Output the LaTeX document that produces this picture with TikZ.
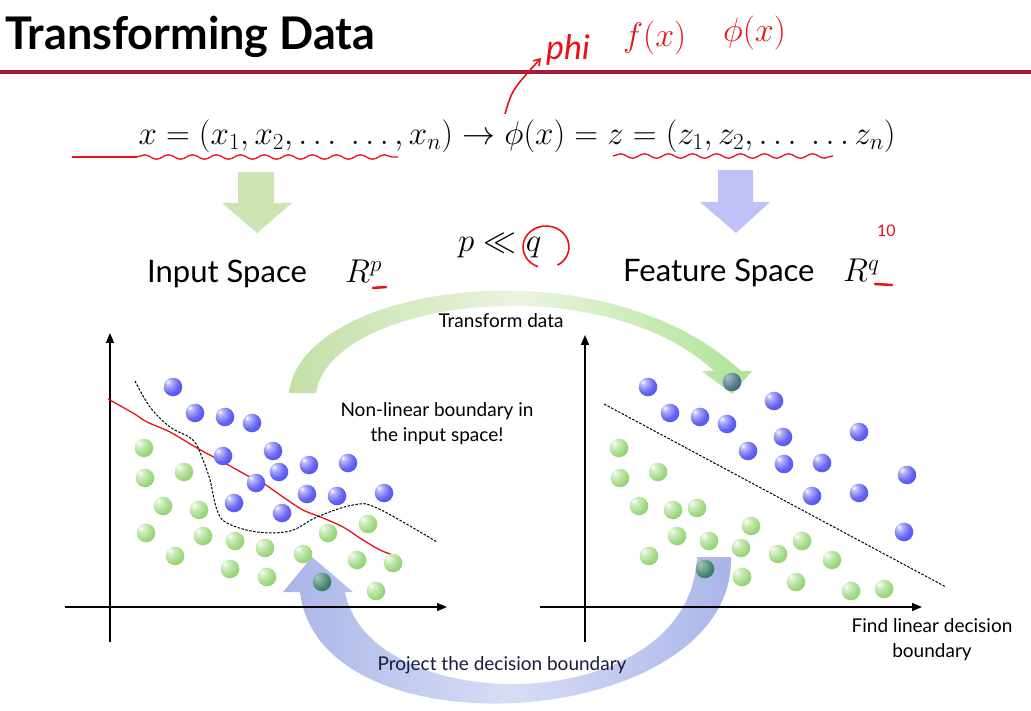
\documentclass[tikz,border=0pt]{standalone}
\usepackage{fix-cm}
\usepackage{amsmath,amssymb}
\usepackage{fontspec}
\setmainfont{Lato}
\usepackage{tikz}
\usetikzlibrary{arrows.meta,positioning,calc,decorations.pathmorphing}
\definecolor{crimson}{HTML}{A01D3E}
\definecolor{inkred}{HTML}{E81218}
\definecolor{leaf}{HTML}{C3E0A6}
\definecolor{lilac}{HTML}{BFC1F7}
\definecolor{lilacband}{HTML}{A9B5E8}
\definecolor{bluedot}{HTML}{4848F0}
\definecolor{greendot}{HTML}{9AD77A}
\definecolor{tealdot}{HTML}{3E8068}
\definecolor{slatedot}{HTML}{4A6F82}
\definecolor{inkblue}{HTML}{1B1B3A}
\pgfdeclareradialshading{bluesphere}{\pgfpoint{-14bp}{14bp}}{color(0bp)=(white);color(8bp)=(bluedot!40);color(26bp)=(bluedot!85);color(45bp)=(bluedot);color(55bp)=(bluedot!85!black);color(100bp)=(bluedot!85!black)}
\pgfdeclareradialshading{greensphere}{\pgfpoint{-14bp}{14bp}}{color(0bp)=(white);color(8bp)=(greendot!40);color(30bp)=(greendot);color(55bp)=(greendot!85!black);color(100bp)=(greendot!85!black)}
\pgfdeclareradialshading{tealsphere}{\pgfpoint{-14bp}{14bp}}{color(0bp)=(tealdot!45);color(30bp)=(tealdot);color(55bp)=(tealdot!85!black);color(100bp)=(tealdot!85!black)}
\pgfdeclareradialshading{slatesphere}{\pgfpoint{-14bp}{14bp}}{color(0bp)=(slatedot!45);color(30bp)=(slatedot);color(55bp)=(slatedot!85!black);color(100bp)=(slatedot!85!black)}
\tikzset{
  ttl/.style={font=\fontsize{45}{50}\selectfont\bfseries,anchor=base west,inner sep=0pt},
  eqn/.style={font=\fontsize{33}{37}\selectfont,anchor=base,inner sep=0pt},
  spc/.style={font=\fontsize{31}{35}\selectfont,anchor=base west,inner sep=0pt},
  dim/.style={font=\fontsize{33}{37}\selectfont,anchor=base west,inner sep=0pt},
  lbl/.style={font=\fontsize{19}{25}\selectfont,align=center,inner sep=0pt},
  hand/.style={color=inkred,font=\fontsize{34}{36}\selectfont,anchor=base west,inner sep=0pt},
  ax/.style={line width=1.4pt,-{Triangle[length=10pt,width=8pt]}},
  bnd/.style={dash pattern=on 2.5pt off 1.5pt,line width=1pt},
  wig/.style={inkred,line width=1.3pt,decorate,decoration={snake,segment length=24pt,amplitude=2.2pt}},
  redmark/.style={inkred,line width=2.5pt,line cap=round},
  bdot/.style={shading=bluesphere},
  gdot/.style={shading=greensphere},
}
\begin{document}
\begin{tikzpicture}[x=1pt,y=-1pt]
\useasboundingbox (0,0) rectangle (1031,711);
\node[ttl] (title) at (5,50) {Transforming Data};
\draw[crimson,line width=4pt] (0,72) -- (1031,72);
\node[eqn] (map) at (517,145) {$x=(x_1,x_2,\ldots\;\ldots,x_n)\rightarrow\phi(x)=z=(z_1,z_2,\ldots\;\ldots z_n)$};
\draw[inkred,line width=1.3pt] (72,157) -- (137,157);
\draw[wig] (137,157) -- (398,157);
\draw[wig] (613,156) -- (833,156);
\draw[inkred,line width=1.6pt,-{Straight Barb[length=6pt,width=8pt]}] (505,114) .. controls (512,90) .. (541,58);
\node[hand] (phi) at (546,60) {\itshape phi};
\node[hand] (fx) at (623,47) {$f(x)$};
\node[hand] (phx) at (723,42) {$\phi(x)$};
% space arrows
\fill[leaf!85] (238,172) -- (274,172) -- (274,203) -- (292,203) -- (257,233) -- (222,203) -- (238,203) -- cycle;
\fill[lilac] (718,170) -- (753,170) -- (753,202) -- (770,202) -- (736,233) -- (700,202) -- (718,202) -- cycle;
\node[spc] (inp) at (147,283) {Input Space};
\node[dim] (rp) at (345,283) {$R^{p}$};
\draw[redmark] (373,288) -- (386,287);
\node[dim] (pq) at (458,252) {$p\ll q$};
\draw[inkred,line width=1.6pt] (546,247) ++(60:23 and 21) arc[start angle=60,end angle=-250,x radius=23,y radius=21];
\node[spc] (feat) at (623,282) {Feature Space};
\node[dim] (rq) at (843,282) {$R^{q}$};
\draw[redmark] (875,284) -- (892,285);
\node[hand,font=\fontsize{16}{18}\selectfont] (ten) at (877,237) {10};
% curved arrows
\shade[left color=leaf,right color=leaf!90!green,middle color=leaf!35] (289,393) .. controls (300,285) and (600,240) .. (741,371) -- (752,371) -- (732,394) -- (702,371) -- (714,371) .. controls (600,265) and (330,300) .. (316,393) -- cycle;
\shade[left color=lilacband,right color=lilacband,middle color=lilacband!45] (731,557) .. controls (735,730) and (320,760) .. (300,592) -- (283,592) -- (312,557) -- (353,592) -- (345,592) .. controls (370,720) and (690,720) .. (697,557) -- cycle;
\node[lbl,anchor=base] (xf) at (501,327) {Transform data};
\node[lbl] (nl) at (437,424) {Non-linear boundary in\\the input space!};
\node[lbl] (fl) at (932,640) {Find linear decision\\boundary};
\node[lbl,anchor=base,text=inkblue] (pr) at (502,670) {Project the decision boundary};
% axes
\draw[ax] (65,607) -- (447,607);
\draw[ax] (110,642) -- (110,333);
\draw[ax] (540,607) -- (922,607);
\draw[ax] (585,642) -- (585,335);
% input space
\draw[inkred,line width=1.3pt] plot[smooth,tension=0.5] coordinates {(108,399) (133,413) (147,422) (170,432) (197,448) (223,462) (250,477) (263,483) (283,497) (303,510) (323,518) (343,527) (363,540) (380,550) (393,555)};
\draw[bnd] plot[smooth,tension=0.6] coordinates {(135,381) (150,407) (170,427) (193,440) (203,460) (210,480) (217,510) (227,523) (257,532) (290,531) (317,517) (353,505) (377,508) (437,542)};
\foreach \x/\y in {173/387,195/413,225/417,252/423,273/451,223/456,279/472,309/465,348/463,256/483,307/494,337/496,384/493,234/503,282/513}
  \shade[bdot] (\x,\y) circle (9.3);
\foreach \x/\y in {144/448,145/478,184/472,163/506,199/510,146/533,203/536,235/541,265/548,303/554,328/533,368/524,175/556,230/569,267/577,357/560,393/563,376/591}
  \shade[gdot] (\x,\y) circle (9.3);
\shade[shading=tealsphere] (322,582) circle (9.3);
% feature space
\draw[bnd] (604,404) -- (946,587);
\foreach \x/\y in {648/387,774/401,670/413,700/417,727/424,783/437,859/432,748/451,784/464,822/463,907/475,812/496,859/493,904/532}
  \shade[bdot] (\x,\y) circle (9.3);
\shade[shading=slatesphere] (732,382) circle (9.3);
\foreach \x/\y in {619/448,620/478,658/472,639/506,673/510,697/508,751/526,677/536,709/541,741/548,778/554,802/541,832/560,649/556,742/577,796/582,851/591,884/589}
  \shade[gdot] (\x,\y) circle (9.3);
\shade[shading=tealsphere] (705,569) circle (9.3);
\end{tikzpicture}
\end{document}
